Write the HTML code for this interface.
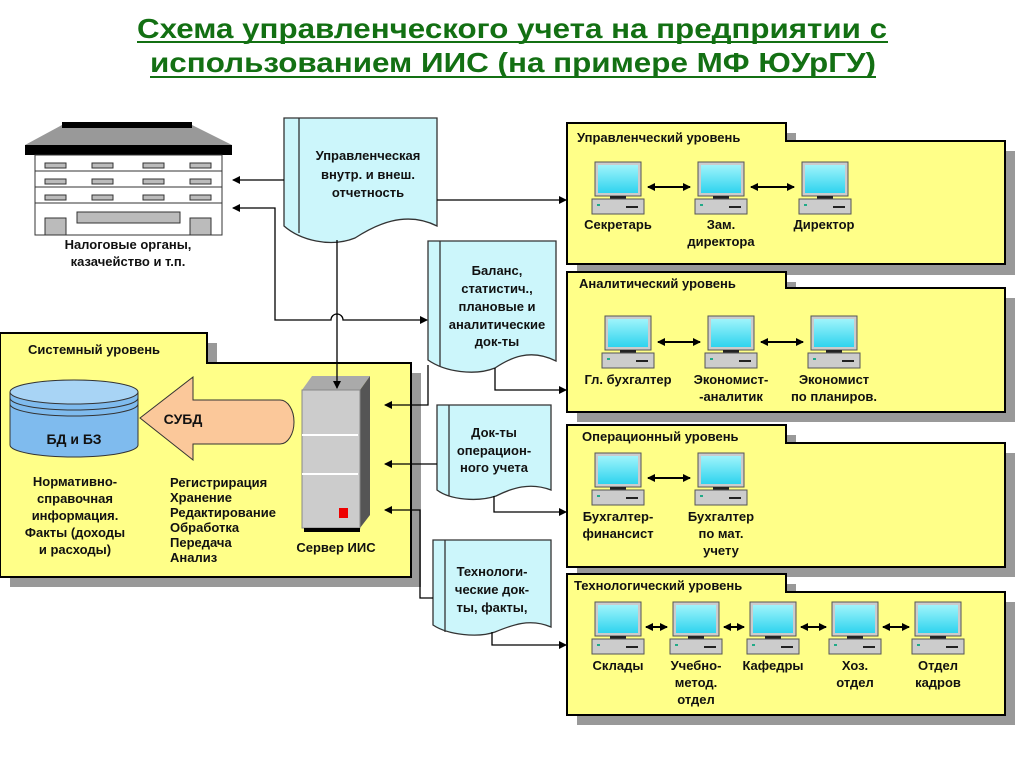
<!DOCTYPE html>
<html><head><meta charset="utf-8"><style>
html,body{margin:0;padding:0;background:#fff;width:1024px;height:767px;overflow:hidden}
svg text{font-family:"Liberation Sans",sans-serif;font-weight:bold;fill:#111}
</style></head><body>
<svg width="1024" height="767" viewBox="0 0 1024 767" xmlns="http://www.w3.org/2000/svg">
<defs>
<marker id="a" markerWidth="8" markerHeight="8" refX="7" refY="4" orient="auto" markerUnits="userSpaceOnUse"><path d="M0,0 L8,4 L0,8 z" fill="#000"/></marker>
<marker id="b" markerWidth="8" markerHeight="8" refX="1" refY="4" orient="auto" markerUnits="userSpaceOnUse"><path d="M8,0 L0,4 L8,8 z" fill="#000"/></marker>
<linearGradient id="scr" x1="0" y1="0" x2="0" y2="1"><stop offset="0" stop-color="#9ff4fb"/><stop offset="1" stop-color="#2fd3ee"/></linearGradient>
<symbol id="pc" viewBox="0 0 52 52" width="52" height="52" overflow="visible">
<rect x="3" y="0" width="46" height="34" fill="#ccc" stroke="#555" stroke-width="1"/>
<rect x="6" y="3" width="40" height="28" fill="url(#scr)"/>
<rect x="18" y="34" width="16" height="3" fill="#222"/>
<rect x="0" y="37" width="52" height="15" fill="#ccc" stroke="#555" stroke-width="1"/>
<rect x="5" y="42" width="3" height="2" fill="#2a8"/>
<rect x="34" y="44" width="12" height="2" fill="#222"/>
</symbol>
</defs>

<text x="512" y="38" font-family="'Liberation Sans Narrow','Liberation Sans',sans-serif" font-size="28" text-anchor="middle" style="fill:#137013" textLength="750" lengthAdjust="spacingAndGlyphs">Схема управленческого учета на предприятии с</text>
<line x1="137" y1="42" x2="888" y2="42" stroke="#137013" stroke-width="2"/>
<text x="513" y="72" font-size="28" text-anchor="middle" style="fill:#137013" textLength="726" lengthAdjust="spacingAndGlyphs">использованием ИИС (на примере МФ ЮУрГУ)</text>
<line x1="150" y1="77" x2="876" y2="77" stroke="#137013" stroke-width="2"/>

<!-- building -->
<polygon points="25,145 62,125 192,125 232,145 232,153 25,153" fill="#999"/>
<rect x="62" y="122" width="130" height="6" fill="#000"/>
<rect x="25" y="145" width="207" height="10" fill="#000"/>
<rect x="35" y="155" width="187" height="80" fill="#fff" stroke="#333"/>
<line x1="35" y1="171" x2="222" y2="171" stroke="#333"/><line x1="35" y1="187" x2="222" y2="187" stroke="#333"/><line x1="35" y1="203" x2="222" y2="203" stroke="#333"/>
<g fill="#bbb" stroke="#333">
<rect x="45" y="163" width="21" height="5"/><rect x="92" y="163" width="21" height="5"/><rect x="143" y="163" width="21" height="5"/><rect x="190" y="163" width="21" height="5"/>
<rect x="45" y="179" width="21" height="5"/><rect x="92" y="179" width="21" height="5"/><rect x="143" y="179" width="21" height="5"/><rect x="190" y="179" width="21" height="5"/>
<rect x="45" y="195" width="21" height="5"/><rect x="92" y="195" width="21" height="5"/><rect x="143" y="195" width="21" height="5"/><rect x="190" y="195" width="21" height="5"/>
<rect x="77" y="212" width="103" height="11"/><rect x="45" y="218" width="21" height="17"/><rect x="190" y="218" width="21" height="17"/>
</g>
<text x="128" y="249" font-size="13" text-anchor="middle">Налоговые органы,</text>
<text x="128" y="266" font-size="13" text-anchor="middle">казачейство и т.п.</text>

<!-- level boxes -->
<g>
<path d="M577,133 H796 V151 H1015 V275 H577 z" fill="#999"/>
<path d="M567,123 H786 V141 H1005 V264 H567 z" fill="#ffff88" stroke="#000" stroke-width="2"/>
<text x="577" y="142" font-size="13">Управленческий уровень</text>
<path d="M577,282 H796 V298 H1015 V422 H577 z" fill="#999"/>
<path d="M567,272 H786 V288 H1005 V412 H567 z" fill="#ffff88" stroke="#000" stroke-width="2"/>
<text x="579" y="288" font-size="13">Аналитический уровень</text>
<path d="M577,435 H796 V453 H1015 V577 H577 z" fill="#999"/>
<path d="M567,425 H786 V443 H1005 V567 H567 z" fill="#ffff88" stroke="#000" stroke-width="2"/>
<text x="582" y="441" font-size="13">Операционный уровень</text>
<path d="M577,584 H796 V602 H1015 V725 H577 z" fill="#999"/>
<path d="M567,574 H786 V592 H1005 V715 H567 z" fill="#ffff88" stroke="#000" stroke-width="2"/>
<text x="574" y="590" font-size="13">Технологический уровень</text>
</g>

<!-- computers -->
<use href="#pc" x="592" y="162"/><use href="#pc" x="695" y="162"/><use href="#pc" x="799" y="162"/>
<line x1="648" y1="187" x2="690" y2="187" stroke="#000" stroke-width="2" marker-start="url(#b)" marker-end="url(#a)"/>
<line x1="751" y1="187" x2="794" y2="187" stroke="#000" stroke-width="2" marker-start="url(#b)" marker-end="url(#a)"/>
<g font-size="13" text-anchor="middle">
<text x="618" y="229">Секретарь</text><text x="721" y="229">Зам.</text><text x="721" y="246">директора</text><text x="824" y="229">Директор</text>
</g>

<use href="#pc" x="602" y="316"/><use href="#pc" x="705" y="316"/><use href="#pc" x="808" y="316"/>
<line x1="658" y1="342" x2="700" y2="342" stroke="#000" stroke-width="2" marker-start="url(#b)" marker-end="url(#a)"/>
<line x1="761" y1="342" x2="803" y2="342" stroke="#000" stroke-width="2" marker-start="url(#b)" marker-end="url(#a)"/>
<g font-size="13" text-anchor="middle">
<text x="628" y="384">Гл. бухгалтер</text><text x="731" y="384">Экономист-</text><text x="731" y="401">-аналитик</text><text x="834" y="384">Экономист</text><text x="834" y="401">по планиров.</text>
</g>

<use href="#pc" x="592" y="453"/><use href="#pc" x="695" y="453"/>
<line x1="648" y1="478" x2="690" y2="478" stroke="#000" stroke-width="2" marker-start="url(#b)" marker-end="url(#a)"/>
<g font-size="13" text-anchor="middle">
<text x="618" y="521">Бухгалтер-</text><text x="618" y="538">финансист</text>
<text x="721" y="521">Бухгалтер</text><text x="721" y="538">по мат.</text><text x="721" y="555">учету</text>
</g>

<use href="#pc" x="592" y="602"/><use href="#pc" x="670" y="602"/><use href="#pc" x="747" y="602"/><use href="#pc" x="829" y="602"/><use href="#pc" x="912" y="602"/>
<g stroke="#000" stroke-width="2">
<line x1="646" y1="627" x2="667" y2="627" marker-start="url(#b)" marker-end="url(#a)"/>
<line x1="724" y1="627" x2="744" y2="627" marker-start="url(#b)" marker-end="url(#a)"/>
<line x1="801" y1="627" x2="826" y2="627" marker-start="url(#b)" marker-end="url(#a)"/>
<line x1="883" y1="627" x2="909" y2="627" marker-start="url(#b)" marker-end="url(#a)"/>
</g>
<g font-size="13" text-anchor="middle">
<text x="618" y="670">Склады</text>
<text x="696" y="670">Учебно-</text><text x="696" y="687">метод.</text><text x="696" y="704">отдел</text>
<text x="773" y="670">Кафедры</text>
<text x="855" y="670">Хоз.</text><text x="855" y="687">отдел</text>
<text x="938" y="670">Отдел</text><text x="938" y="687">кадров</text>
</g>

<!-- system box -->
<path d="M10,343 H217 V373 H421 V587 H10 z" fill="#999"/>
<path d="M0,333 H207 V363 H411 V577 H0 z" fill="#ffff88" stroke="#000" stroke-width="2"/>
<text x="28" y="354" font-size="13">Системный уровень</text>

<!-- cylinder -->
<path d="M10,392 V445 A64,12 0 0 0 138,445 V392" fill="#7fbbee" stroke="#333"/>
<ellipse cx="74" cy="392" rx="64" ry="12" fill="#a8d4f5" stroke="#333"/>
<path d="M10,398 A64,12 0 0 0 138,398 M10,404 A64,12 0 0 0 138,404" fill="none" stroke="#333"/>
<text x="74" y="444" font-size="14" text-anchor="middle">БД и БЗ</text>

<!-- СУБД arrow -->
<path d="M140,418 L193,377 V400 H280 A14,22 0 0 1 280,444 H193 V460 z" fill="#fbc89a" stroke="#333"/>
<text x="183" y="424" font-size="14" text-anchor="middle">СУБД</text>

<!-- server -->
<polygon points="302,390 312,376 370,376 360,390" fill="#aaa"/>
<polygon points="360,390 370,376 370,515 360,528" fill="#555"/>
<rect x="302" y="390" width="58" height="138" fill="#ccc" stroke="#888"/>
<line x1="302" y1="435" x2="358" y2="435" stroke="#fff" stroke-width="2"/>
<line x1="302" y1="474" x2="358" y2="474" stroke="#fff" stroke-width="2"/>
<rect x="304" y="528" width="56" height="4" fill="#000"/>
<rect x="339" y="508" width="9" height="10" fill="#e00"/>
<text x="336" y="552" font-size="13" text-anchor="middle">Сервер ИИС</text>

<g font-size="13" text-anchor="middle">
<text x="75" y="486">Нормативно-</text><text x="75" y="503">справочная</text><text x="75" y="520">информация.</text><text x="75" y="537">Факты  (доходы</text><text x="75" y="554">и расходы)</text>
</g>
<g font-size="13">
<text x="170" y="487">Регистрирация</text><text x="170" y="502">Хранение</text><text x="170" y="517">Редактирование</text><text x="170" y="532">Обработка</text><text x="170" y="547">Передача</text><text x="170" y="562">Анализ</text>
</g>

<!-- documents -->
<g fill="#ccf6fb" stroke="#333" stroke-width="1.3">
<path d="M284,118 H437 V226 C405,210 375,225 355,238 C330,248 300,240 284,226 z"/>
<line x1="299" y1="118" x2="299" y2="233"/>
<path d="M428,241 H556 V361 C530,348 510,358 495,368 C475,376 445,372 428,360 z"/>
<line x1="440" y1="241" x2="440" y2="366"/>
<path d="M437,405 H551 V490 C530,482 512,488 496,496 C478,502 450,500 437,490 z"/>
<line x1="449" y1="405" x2="449" y2="496"/>
<path d="M433,540 H551 V627 C530,618 512,625 495,632 C478,638 448,635 433,625 z"/>
<line x1="445" y1="540" x2="445" y2="632"/>
</g>
<g font-size="13" text-anchor="middle">
<text x="368" y="160">Управленческая</text><text x="368" y="179">внутр. и внеш.</text><text x="368" y="197">отчетность</text>
<text x="497" y="275">Баланс,</text><text x="497" y="293">статистич.,</text><text x="497" y="311">плановые и</text><text x="497" y="329">аналитические</text><text x="497" y="346">док-ты</text>
<text x="494" y="437">Док-ты</text><text x="494" y="455">операцион-</text><text x="494" y="472">ного учета</text>
<text x="492" y="576">Технологи-</text><text x="492" y="594">ческие док-</text><text x="492" y="612">ты, факты,</text>
</g>

<!-- connectors -->
<g stroke="#000" stroke-width="1.3" fill="none">
<line x1="284" y1="180" x2="233" y2="180" marker-end="url(#a)"/>
<line x1="437" y1="200" x2="566" y2="200" marker-end="url(#a)"/>
<line x1="337" y1="240" x2="337" y2="388" marker-end="url(#a)"/>
<path d="M233,208 H275 V320 H331 A6,6 0 0 1 343,320 H427" marker-start="url(#b)" marker-end="url(#a)"/>
<path d="M495,368 V390 H566" marker-end="url(#a)"/>
<path d="M428,365 V405 H385" marker-end="url(#a)"/>
<line x1="437" y1="464" x2="385" y2="464" marker-end="url(#a)"/>
<path d="M494,496 V512 H566" marker-end="url(#a)"/>
<path d="M385,510 H420 V598 H433" marker-start="url(#b)"/>
<path d="M492,632 V645 H566" marker-end="url(#a)"/>
</g>
</svg>
</body></html>
